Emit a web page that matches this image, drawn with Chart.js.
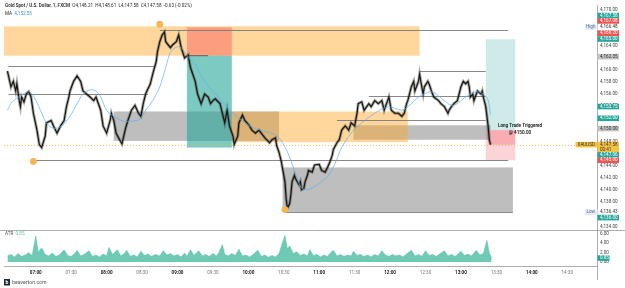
<!DOCTYPE html>
<html><head><meta charset="utf-8">
<script src="https://cdn.jsdelivr.net/npm/chart.js@4/dist/chart.umd.min.js"></script>
<style>html,body{margin:0;padding:0;background:#fff;overflow:hidden}</style>
</head><body>
<canvas id="c" width="625" height="288"></canvas>
<script>
// ---------------- DATA ----------------
const priceTimes = ['06:36','06:39','06:41','06:43','06:44','06:46','06:47','06:48','06:50','06:52','06:54','06:56','06:58','07:01','07:03','07:05','07:07','07:08','07:09','07:13','07:15','07:18','07:21','07:24','07:26','07:28','07:29','07:32','07:35','07:38','07:40','07:43','07:46','07:49','07:51','07:55','07:57','08:00','08:03','08:04','08:06','08:08','08:11','08:13','08:16','08:18','08:21','08:24','08:27','08:29','08:31','08:33','08:37','08:39','08:42','08:43','08:45','08:47','08:49','08:50','08:54','08:56','08:59','09:01','09:03','09:06','09:09','09:11','09:15','09:17','09:20','09:23','09:26','09:28','09:30','09:32','09:36','09:38','09:40','09:42','09:44','09:47','09:48','09:51','09:52','09:55','09:57','10:01','10:03','10:06','10:09','10:12','10:14','10:18','10:20','10:23','10:24','10:26','10:28','10:29','10:31','10:32','10:33','10:35','10:36','10:37','10:39','10:40','10:43','10:44','10:45','10:47','10:48','10:50','10:51','10:54','10:56','11:00','11:02','11:05','11:07','11:09','11:11','11:12','11:15','11:17','11:19','11:22','11:25','11:27','11:30','11:32','11:33','11:36','11:38','11:42','11:44','11:47','11:50','11:53','11:55','11:59','12:01','12:04','12:07','12:10','12:12','12:14','12:15','12:18','12:20','12:21','12:24','12:25','12:26','12:28','12:29','12:32','12:33','12:35','12:37','12:41','12:43','12:46','12:49','12:50','12:52','12:54','12:57','13:00','13:02','13:04','13:06','13:07','13:08','13:10','13:11','13:13','13:14','13:17','13:18','13:19','13:21','13:23','13:24','13:25'];
const priceCloses = [4159.8,4157.2,4158.1,4156.5,4157.7,4154.9,4153.9,4155.5,4154.7,4156.0,4156.4,4155.5,4152.8,4150.0,4147.6,4147.1,4148.4,4149.0,4151.2,4151.6,4150.7,4149.5,4150.7,4151.6,4153.9,4155.5,4156.5,4158.1,4159.0,4158.1,4156.5,4156.0,4155.5,4154.9,4155.5,4153.3,4150.7,4149.5,4151.6,4152.8,4151.6,4149.5,4148.4,4147.7,4150.3,4151.6,4153.3,4154.1,4152.8,4152.3,4154.4,4156.0,4157.7,4159.3,4161.4,4163.0,4164.7,4165.8,4166.3,4164.7,4163.7,4164.2,4164.7,4165.8,4163.8,4162.0,4162.5,4160.4,4158.1,4156.0,4154.4,4156.0,4155.5,4154.4,4154.9,4155.2,4154.4,4152.8,4151.2,4153.3,4150.7,4149.0,4147.6,4149.0,4151.2,4152.5,4151.6,4150.7,4150.0,4149.5,4150.0,4149.2,4148.7,4147.9,4148.4,4148.7,4147.4,4146.3,4144.7,4143.5,4141.4,4138.6,4137.0,4137.8,4139.3,4141.4,4142.5,4141.9,4140.9,4141.4,4140.1,4140.3,4141.4,4142.5,4143.3,4143.0,4144.2,4144.3,4143.3,4143.0,4143.8,4144.7,4145.8,4146.8,4147.9,4148.4,4150.0,4150.7,4150.0,4151.2,4150.7,4152.8,4154.4,4154.7,4153.3,4154.4,4153.9,4154.9,4154.4,4154.9,4153.3,4155.5,4153.3,4152.8,4152.8,4152.3,4152.8,4154.4,4154.9,4157.2,4158.1,4156.5,4158.1,4159.3,4158.1,4156.0,4157.2,4158.1,4157.7,4156.5,4155.5,4154.9,4154.4,4153.9,4152.8,4153.3,4153.9,4154.4,4154.9,4157.2,4158.1,4157.7,4158.1,4157.2,4155.5,4156.0,4154.9,4156.0,4156.5,4156.0,4156.5,4155.5,4153.9,4150.7,4148.4,4147.58];

const maTimes = ['06:36','06:40','06:47','06:54','06:58','07:04','07:09','07:15','07:22','07:29','07:35','07:40','07:46','07:51','07:55','08:00','08:06','08:14','08:22','08:28','08:33','08:39','08:45','08:50','08:54','08:59','09:03','09:09','09:15','09:20','09:26','09:30','09:38','09:47','09:55','10:03','10:12','10:23','10:29','10:35','10:40','10:45','10:50','10:56','11:02','11:08','11:14','11:19','11:27','11:33','11:47','11:59','12:10','12:18','12:24','12:29','12:35','12:41','12:46','12:52','12:57','13:02','13:08','13:14','13:19','13:23','13:25'];
const maValues = [4153.3,4154.7,4155.7,4156.4,4155.7,4153.3,4151.2,4150.3,4150.7,4152.3,4154.4,4156.0,4156.7,4156.5,4155.5,4153.3,4152.3,4151.5,4151.5,4151.8,4153.3,4154.9,4157.2,4160.4,4162.9,4163.8,4163.7,4162.2,4160.9,4159.0,4157.3,4156.5,4154.7,4152.8,4151.5,4150.5,4149.9,4149.2,4147.9,4145.5,4142.7,4140.4,4140.1,4140.6,4141.4,4142.5,4144.7,4147.1,4149.5,4150.7,4152.8,4153.9,4153.3,4154.4,4155.5,4156.0,4156.4,4155.7,4154.9,4154.1,4154.4,4155.2,4156.0,4156.4,4156.0,4155.0,4152.55];

const atrTimes = ['06:36','06:39','06:42','06:45','06:48','06:51','06:54','06:57','07:00','07:02','07:05','07:08','07:11','07:14','07:17','07:20','07:24','07:27','07:30','07:33','07:35','07:38','07:41','07:45','07:48','07:51','07:54','07:57','08:00','08:02','08:05','08:09','08:12','08:15','08:17','08:20','08:23','08:26','08:29','08:32','08:35','08:38','08:41','08:45','08:48','08:51','08:54','08:57','09:00','09:03','09:06','09:08','09:11','09:14','09:18','09:21','09:24','09:27','09:30','09:33','09:35','09:38','09:40','09:43','09:46','09:49','09:52','09:55','09:58','10:01','10:04','10:08','10:11','10:14','10:17','10:20','10:23','10:26','10:29','10:31','10:33','10:35','10:38','10:41','10:44','10:47','10:50','10:52','10:55','10:58','11:01','11:04','11:07','11:09','11:12','11:15','11:18','11:21','11:24','11:27','11:29','11:32','11:35','11:38','11:41','11:44','11:47','11:50','11:53','11:56','11:59','12:02','12:05','12:08','12:11','12:14','12:18','12:21','12:24','12:27','12:30','12:33','12:36','12:39','12:42','12:46','12:49','12:52','12:55','12:58','13:00','13:03','13:06','13:09','13:11','13:13','13:16','13:19','13:22','13:24','13:26'];
const atrValues = [1.3,1.6,1.1,1.8,1.2,1.5,2.0,1.4,5.5,2.2,3.0,1.6,1.3,1.9,1.2,1.5,2.6,1.4,1.2,1.8,2.5,1.3,1.6,2.4,1.2,1.5,1.1,1.7,1.3,3.1,1.6,2.6,1.3,1.8,2.5,1.2,1.5,1.1,2.3,1.4,1.7,1.2,1.6,1.3,2.4,1.5,1.8,1.3,1.6,1.1,1.9,1.2,2.6,1.4,2.4,1.3,1.6,1.2,1.8,1.3,2.0,3.7,1.6,1.3,1.8,1.4,2.7,1.3,1.5,1.1,1.6,2.5,1.2,1.5,1.0,1.4,1.1,1.8,4.2,5.6,2.8,3.4,1.8,2.2,1.4,1.7,1.3,2.6,1.4,1.6,1.1,1.5,1.2,1.8,2.5,1.3,1.6,1.2,1.5,1.3,2.3,1.4,1.6,1.2,1.5,1.1,1.6,1.3,2.4,1.5,1.2,1.6,1.3,1.5,1.1,1.7,2.5,1.3,1.6,1.2,2.4,1.4,1.6,1.2,1.7,2.4,1.3,1.6,1.2,1.8,2.3,1.4,1.7,1.3,1.9,2.5,1.5,1.8,4.6,2.0,0.85];

const timeTickLabels = ['07:00','07:30','08:00','08:30','09:00','09:30','10:00','10:30','11:00','11:30','12:00','12:30','13:00','13:30','14:00','14:30'];
const priceTicks = [4134,4136,4138,4140,4142,4144,4146,4148,4150,4152,4154,4156,4158,4160,4162,4164,4166,4168,4170];
const atrTicks = [0,2,4,6];

// zones: [from, to, top, bottom]
const orangeZones = [['06:33','12:25',4167.25,4162.37],['09:46','12:15',4153.1,4148.0]];
const grayZones = [['08:06','10:26',4153.1,4148.2],['11:29','13:25',4150.8,4148.4],['10:29','13:44',4143.8,4136.4]];
// level lines: [from, to, price]
const levelLines = [['08:45','13:40',4166.6],['06:37','08:41',4160.6],['06:37','08:35',4156.0],['06:59','13:40',4145.0],['12:25','13:21',4159.8],['11:42','13:21',4155.7],['11:15','13:21',4151.6],['10:31','13:44',4136.4]];
// position tools: [from, to, entry, stop, target]
const shortTrade = ['09:08','09:46',4162.37,4167.1,4147.1];
const longTrade = ['13:21','13:46',4150.0,4145.0,4165.1];
const longTriggerTime = '13:25';
const lastPrice = 4147.58;
const pivotTimes = ['08:45','06:58','10:31'];
const pivotPrices = [4167.6,4144.8,4136.8];

// price-axis tags: anchor price, text, kind
const axisTagAt = [4169.04,4168.15,4167.09,4166.11,4165.14,4162.21,4153.92,4151.97,4150.26,4147.58,4145.87,4144.98,4136.36,4135.46];
const axisTagText = ['4,167.58','4,167.08','4,166.48','4,166.20','4,165.00','4,162.35','4,153.75','4,152.00','4,150.00','4,147.58','4,147.06','4,145.00','4,136.43','4,136.00'];
const axisTagKind = ['up','down','high','down','up','neutral','up','up','neutral','last','up','down','low','up'];

const headerTitle = 'Gold Spot / U.S. Dollar, 1, FXCM';
const headerOHLC = 'O4,148.21  H4,148.61  L4,147.58  C4,147.58  -0.63 (-0.02%)';
const maValueText = '4,152.55';
const atrValueText = '0.85';
const countdownText = '00:41';
const tradeNote = ['Long Trade Triggered','@ 4150.00'];
const tradeNoteTime = '13:50';
const tradeNotePrices = [4150.67,4149.53];

// ---------------- STYLE ----------------
const FONT = 'Roboto, "Liberation Sans", Arial, sans-serif';
const tagStyle = {
  up:{bg:'#26a69a',fg:'#ffffff'}, down:{bg:'#ef5350',fg:'#ffffff'},
  neutral:{bg:'#c4c4c4',fg:'#333333'}, last:{bg:'#f6c343',fg:'#333333'},
  high:{bg:'#ffffff',fg:'#333333'}, low:{bg:'#ffffff',fg:'#333333'}
};
const T = s => { const [h,m] = s.split(':').map(Number); return h*60+m; };
const fmt2 = v => v.toLocaleString('en-US',{minimumFractionDigits:2,maximumFractionDigits:2});

const overlay = {
  id:'overlay',
  beforeDatasetsDraw(chart){
    const ctx = chart.ctx, xs = chart.scales.x, ys = chart.scales.y;
    const X = t => xs.getPixelForValue(T(t)), Y = p => ys.getPixelForValue(p);
    ctx.save();
    ctx.beginPath(); ctx.rect(xs.left, ys.top, xs.right-xs.left, ys.bottom-ys.top); ctx.clip();
    const box = (t1,t2,p1,p2,fill) => { const x1=X(t1),x2=X(t2),y1=Y(p1),y2=Y(p2);
      ctx.fillStyle=fill; ctx.fillRect(Math.min(x1,x2),Math.min(y1,y2),Math.abs(x2-x1),Math.abs(y2-y1)); };
    grayZones.forEach(z => box(z[0],z[1],z[2],z[3],'rgba(110,110,110,0.45)'));
    orangeZones.forEach(z => box(z[0],z[1],z[2],z[3],'rgba(255,167,38,0.45)'));
    box(shortTrade[0],shortTrade[1],shortTrade[2],shortTrade[3],'rgba(242,54,69,0.35)');
    box(shortTrade[0],shortTrade[1],shortTrade[2],shortTrade[4],'rgba(38,166,154,0.6)');
    box(longTrade[0],longTrade[1],longTrade[2],longTrade[4],'rgba(38,166,154,0.22)');
    box(longTrade[0],longTrade[1],longTrade[2],longTrade[3],'rgba(242,54,69,0.22)');
    box(longTriggerTime,longTrade[1],longTrade[2],lastPrice,'rgba(242,54,69,0.25)');
    ctx.lineWidth = 0.9; ctx.strokeStyle = '#7a7a7a';
    levelLines.forEach(l => { ctx.beginPath(); ctx.moveTo(X(l[0]),Math.round(Y(l[2]))+0.5); ctx.lineTo(X(l[1]),Math.round(Y(l[2]))+0.5); ctx.stroke(); });
    ctx.strokeStyle = '#555'; ctx.beginPath(); ctx.moveTo(X(shortTrade[0]),Y(shortTrade[2])); ctx.lineTo(X('09:26'),Y(shortTrade[2])); ctx.stroke();
    ctx.setLineDash([1,2]); ctx.strokeStyle='#e8b730'; ctx.lineWidth=0.8;
    ctx.beginPath(); ctx.moveTo(xs.left,Math.round(Y(lastPrice))+0.5); ctx.lineTo(xs.right,Math.round(Y(lastPrice))+0.5); ctx.stroke();
    ctx.setLineDash([]);
    ctx.restore();
  },
  afterDraw(chart){
    const ctx = chart.ctx, xs = chart.scales.x, ys = chart.scales.y, ya = chart.scales.yAtr;
    const X = t => xs.getPixelForValue(T(t)), Y = p => ys.getPixelForValue(p);
    ctx.save();
    ctx.textBaseline = 'middle';
    ctx.strokeStyle = '#9a9a9a'; ctx.lineWidth = 0.8;
    ctx.beginPath(); ctx.moveTo(0, Math.round(ya.top)+0.5); ctx.lineTo(625, Math.round(ya.top)+0.5); ctx.stroke();
    ctx.beginPath(); ctx.moveTo(xs.right+0.5, xs.top); ctx.lineTo(xs.right+0.5, 280); ctx.stroke();
    ctx.fillStyle = '#111'; ctx.textAlign = 'center'; ctx.font = '600 4.6px ' + FONT;
    ctx.fillText(tradeNote[0], X(tradeNoteTime), Y(tradeNotePrices[0]));
    ctx.fillText(tradeNote[1], X(tradeNoteTime), Y(tradeNotePrices[1]));
    ctx.textAlign = 'left'; ctx.font = '600 4.6px ' + FONT; ctx.fillStyle = '#2a2a2a';
    ctx.fillText(headerTitle, 5, 6);
    let w = ctx.measureText(headerTitle + '  ').width;
    ctx.font = '4.6px ' + FONT; ctx.fillText(headerOHLC, 5 + w, 6);
    ctx.font = '4.6px ' + FONT; ctx.fillStyle = '#2a2a2a'; ctx.fillText('MA', 5, 14);
    ctx.fillStyle = '#3f8fe0'; ctx.fillText(maValueText, 5 + ctx.measureText('MA  ').width, 14);
    ctx.fillStyle = '#555'; ctx.fillText('ATR', 5, ya.top + 4);
    ctx.fillStyle = '#5fc4ad'; ctx.fillText(atrValueText, 5 + ctx.measureText('ATR  ').width, ya.top + 4);
    const ax = xs.right + 0.5;
    axisTagAt.forEach((p,i) => {
      const st = tagStyle[axisTagKind[i]]; const y = Y(p);
      const h = axisTagKind[i]==='last' ? 11 : 5.6;
      const top = axisTagKind[i]==='last' ? y - 3 : y - h/2;
      ctx.fillStyle = st.bg; ctx.fillRect(ax, top, 21.5, h);
      ctx.fillStyle = st.fg; ctx.font = '4.6px ' + FONT; ctx.textAlign='left';
      ctx.fillText(axisTagText[i], ax + 2.5, y);
      if (axisTagKind[i]==='last') ctx.fillText(countdownText, ax + 2.5, y + 5);
      if (axisTagKind[i]==='high' || axisTagKind[i]==='low') {
        ctx.fillStyle = '#e6ecf7'; ctx.fillRect(ax - 12.5, y - 2.8, 11.5, 5.6);
        ctx.fillStyle = '#5a6c92'; ctx.textAlign='center';
        ctx.fillText(axisTagKind[i]==='high' ? 'High' : 'Low', ax - 6.8, y);
      }
      if (axisTagKind[i]==='last') {
        ctx.fillStyle = '#f6c343'; ctx.fillRect(ax - 22, y - 2.8, 21.5, 5.6);
        ctx.fillStyle = '#333'; ctx.textAlign='center'; ctx.fillText('XAUUSD', ax - 11.2, y);
      }
    });
    const ay = ya.getPixelForValue(parseFloat(atrValueText));
    ctx.fillStyle = '#26a69a'; ctx.fillRect(ax, ay - 2.8, 12, 5.6);
    ctx.fillStyle = '#fff'; ctx.textAlign='left'; ctx.fillText(atrValueText, ax + 2.5, ay);
    ctx.fillStyle = '#1e2a3a'; ctx.fillRect(4, 279, 6, 6.5);
    ctx.fillStyle = '#fff'; ctx.font = 'bold 5px ' + FONT; ctx.textAlign='center'; ctx.fillText('b', 7, 282.4);
    ctx.fillStyle = '#555'; ctx.font = '5.2px ' + FONT; ctx.textAlign='left'; ctx.fillText('beaverton.com', 12, 282.4);
    ctx.restore();
  }
};

const pricePoints = priceTimes.map((t,i)=>({x:T(t), y:priceCloses[i]}));
new Chart(document.getElementById('c'), {
  type: 'line',
  data: { datasets: [
    { label:'XAUUSD', data: pricePoints, yAxisID:'y',
      borderColor:'#151515', borderWidth:1.2, pointRadius:0, tension:0, order:1 },
    { label:'XAUUSD range', data: pricePoints, yAxisID:'y',
      borderColor:'rgba(70,70,55,0.45)', borderWidth:3, pointRadius:0, tension:0, order:3 },
    { label:'MA', data: maTimes.map((t,i)=>({x:T(t), y:maValues[i]})), yAxisID:'y',
      borderColor:'#62aeee', borderWidth:0.7, pointRadius:0, tension:0.3, order:0 },
    { label:'Pivots', data: pivotTimes.map((t,i)=>({x:T(t), y:pivotPrices[i]})), yAxisID:'y',
      showLine:false, pointRadius:3.4, pointBackgroundColor:'#f9b552', pointBorderWidth:0, order:0 },
    { label:'ATR', data: atrTimes.map((t,i)=>({x:T(t), y:atrValues[i]})), yAxisID:'yAtr',
      borderColor:'#5fc4ad', borderWidth:0.6, backgroundColor:'rgba(95,196,173,0.9)', fill:'origin', pointRadius:0, tension:0, order:4 }
  ]},
  options: {
    responsive:false, animation:false, devicePixelRatio:1,
    layout:{ padding:{left:0,right:0,top:0,bottom:10} },
    plugins:{ legend:{display:false}, tooltip:{enabled:false} },
    scales:{
      x:{ type:'linear', min:393.1, max:895.2,
        grid:{display:false, drawTicks:false}, border:{display:true,color:'#9a9a9a',width:0.8},
        afterBuildTicks: s => { s.ticks = timeTickLabels.map(l => ({value:T(l)})); },
        afterFit: s => { s.height = 12; },
        ticks:{ autoSkip:false, maxRotation:0, padding:4,
          callback: v => timeTickLabels.find(l => T(l)===v) || '',
          font: c => ({family:FONT, size:4.6, weight: (c.tick && c.tick.value % 60 === 0) ? 'bold' : 'normal'}),
          color: c => (c.tick && c.tick.value % 60 === 0) ? '#222' : '#777' } },
      y:{ type:'linear', position:'right', stack:'panes', stackWeight:229, min:4133.43, max:4170.67,
        grid:{display:false, drawTicks:false}, border:{display:true,color:'#9a9a9a',width:0.8},
        afterBuildTicks: s => { s.ticks = priceTicks.map(v => ({value:v})); },
        afterFit: s => { s.width = 28; },
        ticks:{ autoSkip:false, padding:3, callback: v => fmt2(v), font:{family:FONT,size:4.6}, color:'#444' } },
      yAtr:{ type:'linear', position:'right', stack:'panes', stackWeight:37, min:-0.83, max:6.83,
        grid:{display:false, drawTicks:false}, border:{display:true,color:'#9a9a9a',width:0.8},
        afterBuildTicks: s => { s.ticks = atrTicks.map(v => ({value:v})); },
        afterFit: s => { s.width = 28; },
        ticks:{ autoSkip:false, padding:3, callback: v => v.toFixed(2), font:{family:FONT,size:4.6}, color:'#444' } }
    }
  },
  plugins:[overlay]
});
</script>
</body></html>
